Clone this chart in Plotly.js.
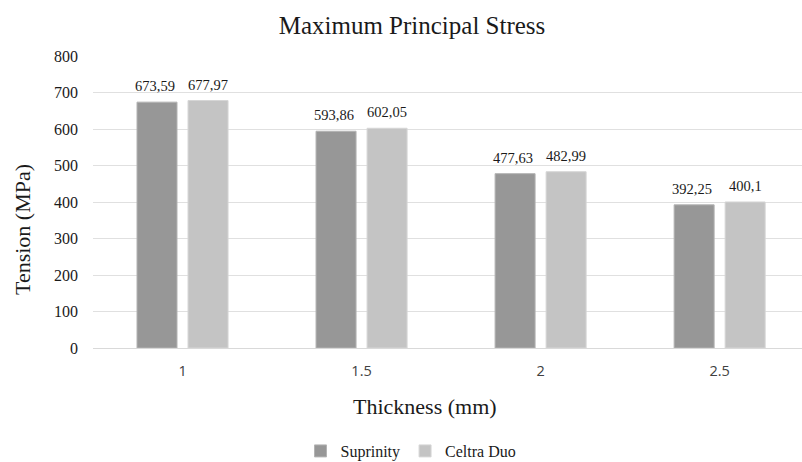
<!DOCTYPE html>
<html>
<head>
<meta charset="utf-8">
<script src="https://cdn.plot.ly/plotly-3.0.1.min.js"></script>
<style>
  html, body { margin: 0; padding: 0; background: #fff; }
  #chart { width: 802px; height: 462px; }
</style>
</head>
<body>
<div id="chart"></div>
<script>
// Plate thickness categories (mm)
const thickness = ['1', '1.5', '2', '2.5'];
// Maximum principal stress per material (MPa)
const suprinity = [673.59, 593.86, 477.63, 392.25];
const celtraDuo = [677.97, 602.05, 482.99, 400.1];
const seriesNames = ['Suprinity', 'Celtra Duo'];
const yTicks = [0, 100, 200, 300, 400, 500, 600, 700, 800];

const serif = 'Liberation Serif, Times New Roman, serif';
const fmt = v => String(v).replace('.', ',');

const traces = [
  {
    type: 'bar', name: seriesNames[0], x: thickness, y: suprinity,
    marker: { color: '#979797', line: { color: '#b3b3b3', width: 1 } },
    hoverinfo: 'skip'
  },
  {
    type: 'bar', name: seriesNames[1], x: thickness, y: celtraDuo,
    marker: { color: '#c4c4c4', line: { color: '#d6d6d6', width: 1 } },
    hoverinfo: 'skip'
  }
];

// Value labels above each bar (comma decimal separator);
// x is the category index so numeric-looking names are not misread
const labelOffset = 25.5;
const annotations = [];
[suprinity, celtraDuo].forEach((vals, s) => {
  vals.forEach((v, i) => {
    annotations.push({
      x: i, y: v, xref: 'x', yref: 'y',
      text: fmt(v), showarrow: false,
      xshift: s === 0 ? -labelOffset - 2 : labelOffset,
      yanchor: 'bottom', yshift: 6,
      font: { family: serif, size: 14.5, color: '#1a1a1a' }
    });
  });
});

// Axis titles
annotations.push({
  xref: 'paper', yref: 'paper', x: (425 - 93) / 709, y: -(406 - 348) / 292,
  text: 'Thickness (mm)', showarrow: false, xanchor: 'center', yanchor: 'middle',
  font: { family: serif, size: 22, color: '#1a1a1a' }
});
annotations.push({
  xref: 'paper', yref: 'paper', x: -(93 - 23) / 709, y: (348 - 230) / 292,
  text: 'Tension (MPa)', showarrow: false, textangle: -90,
  xanchor: 'center', yanchor: 'middle',
  font: { family: serif, size: 22, color: '#1a1a1a' }
});

const layout = {
  width: 802, height: 462,
  margin: { l: 93, r: 0, t: 56, b: 114 },
  paper_bgcolor: '#ffffff', plot_bgcolor: '#ffffff',
  title: {
    text: 'Maximum Principal Stress',
    font: { family: serif, size: 25, color: '#1a1a1a' },
    x: 412 / 802, xref: 'container', xanchor: 'center',
    y: 1 - 25 / 462, yref: 'container', yanchor: 'middle'
  },
  barmode: 'group', bargap: 0.43, bargroupgap: 0.216,
  xaxis: {
    type: 'category', range: [-0.5, 3.46],
    showgrid: false, zeroline: false,
    showline: true, linecolor: '#d9d9d9', linewidth: 1,
    ticks: '', ticklabelstandoff: 10,
    tickfont: { family: 'Open Sans, sans-serif', size: 14.5, color: '#404040' }
  },
  yaxis: {
    range: [0, 800], tickvals: yTicks, ticktext: yTicks.map(String),
    showgrid: true, gridcolor: '#e0e0e0', gridwidth: 1,
    zeroline: false, showline: false, ticks: '', ticklabelstandoff: 14,
    tickfont: { family: serif, size: 16, color: '#1a1a1a' }
  },
  showlegend: true,
  legend: {
    orientation: 'h', xref: 'container', yref: 'container',
    x: 411 / 802, xanchor: 'center', y: 1 - 451 / 462, yanchor: 'middle',
    font: { family: serif, size: 16, color: '#1a1a1a' },
    itemwidth: 30, traceorder: 'normal'
  },
  annotations: annotations
};

Plotly.newPlot('chart', traces, layout, { staticPlot: true, displayModeBar: false });
</script>
</body>
</html>
